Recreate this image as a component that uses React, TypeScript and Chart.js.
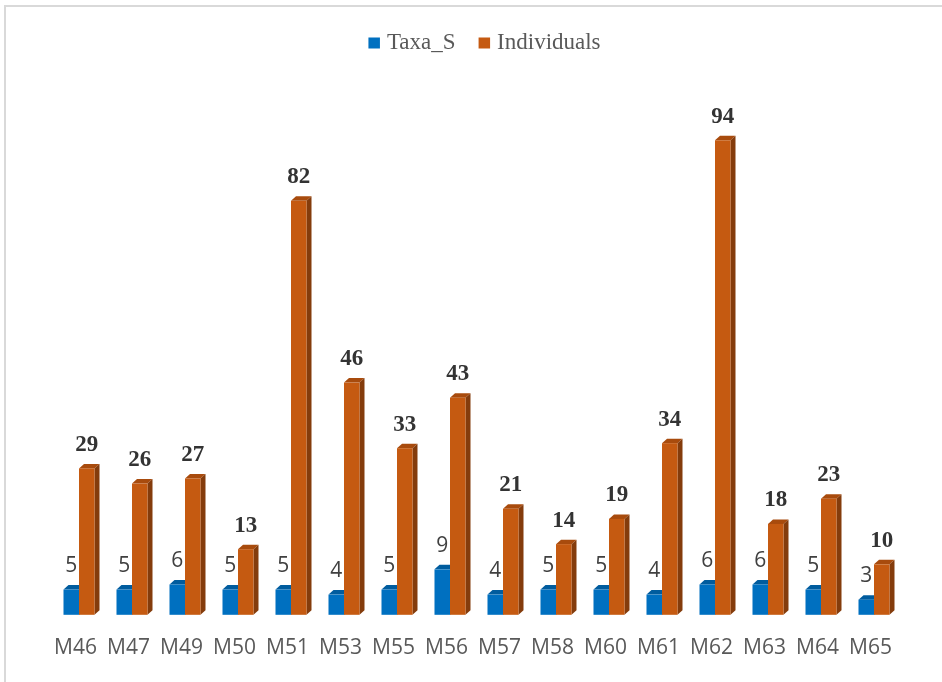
import React, { useEffect, useRef } from "react";
import { Chart, registerables } from "chart.js";

Chart.register(...registerables);

const categories = ["M46", "M47", "M49", "M50", "M51", "M53", "M55", "M56", "M57", "M58", "M60", "M61", "M62", "M63", "M64", "M65"];
const taxaS = [5, 5, 6, 5, 5, 4, 5, 9, 4, 5, 5, 4, 6, 6, 5, 3];
const individuals = [29, 26, 27, 13, 82, 46, 33, 43, 21, 14, 19, 34, 94, 18, 23, 10];
const seriesNames = ["Taxa_S", "Individuals"];

const FACE = [
  { front: "#0070C0", top: "#005C9E", side: "#004C84" },
  { front: "#C55A11", top: "#A84B0D", side: "#843C0C" },
];
const DX = 5;
const DY = 4.5;

const bar3dPlugin = {
  id: "bar3d",
  afterDatasetsDraw(chart: any) {
    const ctx = chart.ctx;
    const n = chart.data.labels.length;
    ctx.save();
    for (let i = 0; i < n; i++) {
      for (let d = 0; d < chart.data.datasets.length; d++) {
        const el = chart.getDatasetMeta(d).data[i];
        const { x, y, base, width } = el.getProps(["x", "y", "base", "width"], true);
        const l = x - width / 2;
        const r = x + width / 2;
        const c = FACE[d];
        ctx.fillStyle = c.top;
        ctx.beginPath();
        ctx.moveTo(l, y);
        ctx.lineTo(l + DX, y - DY);
        ctx.lineTo(r + DX, y - DY);
        ctx.lineTo(r, y);
        ctx.closePath();
        ctx.fill();
        ctx.fillStyle = c.side;
        ctx.beginPath();
        ctx.moveTo(r, y);
        ctx.lineTo(r + DX, y - DY);
        ctx.lineTo(r + DX, base - DY);
        ctx.lineTo(r, base);
        ctx.closePath();
        ctx.fill();
        ctx.fillStyle = c.front;
        ctx.fillRect(l, y, width, base - y);
      }
    }
    // data labels
    ctx.textAlign = "center";
    ctx.textBaseline = "alphabetic";
    for (let d = 0; d < chart.data.datasets.length; d++) {
      const meta = chart.getDatasetMeta(d);
      const values = chart.data.datasets[d].data;
      if (d === 0) {
        ctx.font = "21px 'Open Sans'";
        ctx.fillStyle = "#404040";
      } else {
        ctx.font = "bold 23px 'Liberation Serif'";
        ctx.fillStyle = "#333333";
      }
      meta.data.forEach((el: any, i: number) => {
        const { x, y } = el.getProps(["x", "y"], true);
        ctx.fillText(String(values[i]), x, y - 17.5);
      });
    }
    ctx.restore();
  },
};

const legendPlugin = {
  id: "customLegend",
  afterDraw(chart: any) {
    const ctx = chart.ctx;
    ctx.save();
    ctx.font = "23px 'Liberation Serif'";
    ctx.textBaseline = "alphabetic";
    ctx.textAlign = "left";
    const box = 11.5;
    const gap = 7;
    const itemGap = 23;
    const widths = seriesNames.map((s) => ctx.measureText(s).width);
    const total = widths.reduce((a, w) => a + box + gap + w, 0) + itemGap * (seriesNames.length - 1);
    let x = 484.5 - total / 2;
    const baseline = 48.5;
    seriesNames.forEach((s, i) => {
      ctx.fillStyle = FACE[i].front;
      ctx.fillRect(x, baseline - 11, box, 11);
      x += box + gap;
      ctx.fillStyle = "#595959";
      ctx.fillText(s, x, baseline);
      x += widths[i] + itemGap;
    });
    ctx.restore();
  },
};

export default function App() {
  const ref = useRef<HTMLCanvasElement>(null);
  useEffect(() => {
    if (!ref.current) return;
    const chart = new Chart(ref.current, {
      type: "bar",
      data: {
        labels: categories,
        datasets: [
          { label: seriesNames[0], data: taxaS, backgroundColor: "rgba(0,0,0,0)", borderWidth: 0 },
          { label: seriesNames[1], data: individuals, backgroundColor: "rgba(0,0,0,0)", borderWidth: 0 },
        ],
      },
      options: {
        responsive: false,
        animation: false,
        devicePixelRatio: 1,
        layout: { padding: { left: 52.5, right: 41.5, top: 110, bottom: 0 } },
        datasets: { bar: { categoryPercentage: 0.585, barPercentage: 1 } },
        plugins: { legend: { display: false }, tooltip: { enabled: false } },
        scales: {
          x: {
            grid: { display: false, drawTicks: false },
            border: { display: false },
            ticks: {
              font: { family: "'Open Sans'", size: 21 },
              color: "#595959",
              padding: 21,
              labelOffset: -3.5,
              maxRotation: 0,
              autoSkip: false,
            },
          },
          y: { display: false, min: 0, max: 100 },
        },
      },
      plugins: [bar3dPlugin, legendPlugin],
    });
    return () => chart.destroy();
  }, []);
  return (
    <div style={{ position: "absolute", left: 0, top: 0, width: 942, height: 682, overflow: "hidden", background: "#fff" }}>
      <div style={{ position: "absolute", left: 4, top: 5, width: 1000, height: 800, border: "2px solid #d9d9d9" }} />
      <canvas ref={ref} width={942} height={682} style={{ position: "absolute", left: 0, top: 0, display: "block" }} />
    </div>
  );
}
